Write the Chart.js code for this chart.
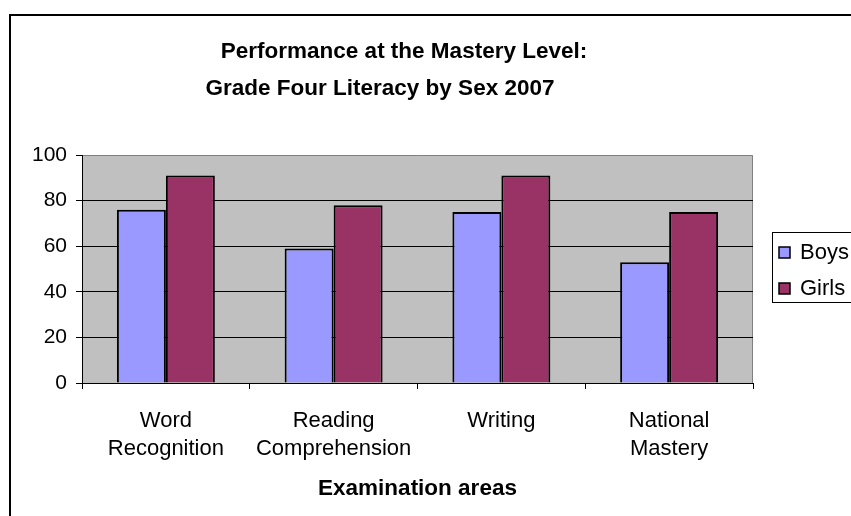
<!DOCTYPE html>
<html>
<head>
<meta charset="utf-8">
<script src="https://cdn.jsdelivr.net/npm/chart.js@4/dist/chart.umd.min.js"></script>
<style>
html,body{margin:0;padding:0;background:#fff;}
#wrap{width:851px;height:516px;position:relative;}
</style>
</head>
<body>
<div id="wrap"><canvas id="c" width="851" height="516"></canvas></div>
<script>
const titleLines = ["Performance at the Mastery Level:", "Grade Four Literacy by Sex 2007"];
const categories = [["Word", "Recognition"], ["Reading", "Comprehension"], ["Writing"], ["National", "Mastery"]];
const seriesNames = ["Boys", "Girls"];
const boys = [76, 59, 75, 53];
const girls = [91, 78, 91, 75];
const xAxisTitle = "Examination areas";

const FONT = "'Liberation Sans', Arial, sans-serif";
Chart.defaults.color = '#000';
Chart.defaults.font.family = FONT;

const decor = {
  id: 'decor',
  beforeDraw(chart) {
    const ctx = chart.ctx, a = chart.chartArea;
    ctx.save();
    ctx.fillStyle = '#fff';
    ctx.fillRect(0, 0, chart.width, chart.height);
    ctx.fillStyle = '#C0C0C0';
    ctx.fillRect(a.left, a.top, a.right - a.left, a.bottom - a.top);
    ctx.strokeStyle = '#808080';
    ctx.lineWidth = 1;
    ctx.beginPath();
    ctx.moveTo(a.left, a.top + 0.5);
    ctx.lineTo(a.right - 0.5, a.top + 0.5);
    ctx.lineTo(a.right - 0.5, a.bottom);
    ctx.stroke();
    // outer chart border
    ctx.strokeStyle = '#000';
    ctx.lineWidth = 2;
    ctx.strokeRect(10, 15, 1000, 800);
    ctx.restore();
  },
  afterDraw(chart) {
    const ctx = chart.ctx;
    ctx.save();
    // title
    ctx.fillStyle = '#000';
    ctx.font = "bold 22.5px " + FONT;
    ctx.textAlign = 'center';
    ctx.textBaseline = 'middle';
    ctx.fillText(titleLines[0], 404, 52);
    ctx.fillText(titleLines[1], 380, 89);
    // legend
    ctx.strokeStyle = '#000';
    ctx.lineWidth = 1;
    ctx.strokeRect(772.5, 232.5, 200, 70);
    const ys = [253, 289];
    chart.data.datasets.forEach((ds, i) => {
      ctx.fillStyle = ds.backgroundColor;
      ctx.fillRect(779, ys[i] - 6, 11, 11);
      ctx.strokeStyle = '#000';
      ctx.lineWidth = 1.5;
      ctx.strokeRect(779, ys[i] - 6, 11, 11);
      ctx.fillStyle = '#000';
      ctx.font = "22px " + FONT;
      ctx.textAlign = 'left';
      ctx.textBaseline = 'middle';
      ctx.fillText(ds.label, 800, ys[i]);
    });
    ctx.restore();
  }
};

new Chart(document.getElementById('c'), {
  type: 'bar',
  data: {
    labels: categories,
    datasets: [
      { label: seriesNames[0], data: boys, backgroundColor: '#9999FF', borderColor: '#000', borderWidth: 2 },
      { label: seriesNames[1], data: girls, backgroundColor: '#993366', borderColor: '#000', borderWidth: 2 }
    ]
  },
  options: {
    responsive: false,
    animation: false,
    devicePixelRatio: 1,
    categoryPercentage: 0.584,
    barPercentage: 1,
    layout: { padding: { top: 155, right: 98, left: 0, bottom: 0 } },
    plugins: {
      legend: { display: false },
      title: { display: false },
      tooltip: { enabled: false }
    },
    scales: {
      x: {
        afterFit(s) { s.height = 133; },
        grid: { drawOnChartArea: false, drawTicks: true, tickLength: 6, color: '#000', offset: true },
        border: { color: '#000', width: 1 },
        ticks: { font: { size: 22, lineHeight: 28 / 22 }, padding: 18, color: '#000', maxRotation: 0, autoSkip: false },
        title: { display: true, text: xAxisTitle, font: { size: 22.5, weight: 'bold' }, padding: { top: 0, bottom: 14 }, color: '#000' }
      },
      y: {
        afterFit(s) { s.width = 82; },
        min: 0, max: 100,
        grid: {
          color: (c) => (c.tick && c.tick.value === 100) ? 'rgba(0,0,0,0)' : '#000',
          tickColor: '#000', tickLength: 6, lineWidth: 1
        },
        border: { color: '#000', width: 1 },
        ticks: { stepSize: 20, font: { size: 21 }, padding: 9, color: '#000' }
      }
    }
  },
  plugins: [decor]
});
</script>
</body>
</html>
